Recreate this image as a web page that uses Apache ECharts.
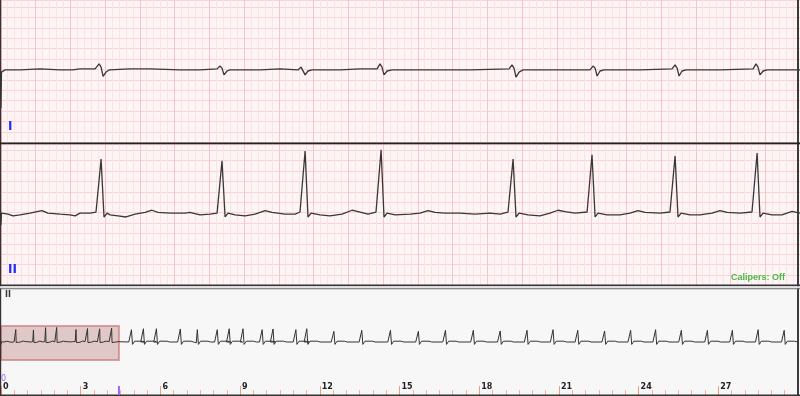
<!DOCTYPE html>
<html>
<head>
<meta charset="utf-8">
<script src="https://cdn.jsdelivr.net/npm/echarts@6.0.0/dist/echarts.min.js"></script>
<style>
html,body{margin:0;padding:0;background:#fff;}
#chart{width:800px;height:396px;}
</style>
</head>
<body>
<div id="chart"></div>
<script>
// ---- Data (time in s, amplitude in mV) ----
const leadI = [[0.005,-1.04],[0.008,-0.03],[0.028,0.03],[0.11,0.03],[0.22,0.06],[0.33,0.03],[0.40,0.03],[0.44,0.06],[0.523,0.06],[0.545,0.20],[0.556,0.11],[0.567,-0.15],[0.583,-0.03],[0.60,0.03],[0.715,0.06],[0.825,0.06],[0.99,0.03],[1.10,0.03],[1.194,0.06],[1.21,0.14],[1.221,0.08],[1.232,-0.11],[1.249,0],[1.265,0.03],[1.43,0.03],[1.54,0.06],[1.639,0.03],[1.656,0.11],[1.667,0.06],[1.678,-0.11],[1.694,0],[1.716,0.03],[1.87,0.03],[1.98,0.06],[2.074,0.06],[2.09,0.20],[2.101,0.11],[2.112,-0.11],[2.129,0],[2.156,0.03],[2.365,0.03],[2.585,0.03],[2.80,0.06],[2.816,0.17],[2.827,0.08],[2.838,-0.17],[2.855,-0.03],[2.877,0.03],[3.08,0.03],[3.245,0.03],[3.262,0.14],[3.273,0.08],[3.284,-0.14],[3.30,0],[3.322,0.03],[3.52,0.03],[3.696,0.06],[3.713,0.17],[3.724,0.08],[3.735,-0.14],[3.751,0],[3.773,0.03],[3.96,0.03],[4.142,0.06],[4.158,0.20],[4.169,0.11],[4.18,-0.11],[4.197,0],[4.219,0.03],[4.40,0.03]];

const leadII = [[0.005,-0.30],[0.008,0.04],[0.044,0.01],[0.072,-0.04],[0.11,-0.01],[0.165,0.04],[0.209,0.09],[0.231,0.11],[0.264,0.04],[0.33,0.01],[0.385,-0.01],[0.413,-0.04],[0.44,0.04],[0.495,0.04],[0.528,0.07],[0.556,1.56],[0.572,-0.07],[0.589,0.04],[0.605,-0.01],[0.649,-0.04],[0.693,-0.07],[0.743,0.01],[0.798,0.06],[0.836,0.12],[0.869,0.06],[0.935,0.04],[1.018,0.04],[1.045,0.06],[1.10,-0.01],[1.155,0.01],[1.194,0.04],[1.221,1.51],[1.238,-0.07],[1.254,0.04],[1.293,-0.01],[1.348,-0.04],[1.403,0.01],[1.458,0.11],[1.496,0.06],[1.568,0.01],[1.623,0.01],[1.65,0.07],[1.678,1.79],[1.694,-0.07],[1.711,0.04],[1.76,-0.01],[1.815,-0.04],[1.881,0.01],[1.936,0.12],[1.969,0.08],[2.024,0.01],[2.068,0.07],[2.096,1.82],[2.112,-0.07],[2.129,0.04],[2.173,-0.01],[2.255,0.01],[2.31,0.04],[2.354,0.11],[2.393,0.06],[2.448,0.04],[2.53,0.04],[2.613,0.01],[2.695,0.04],[2.75,0.01],[2.794,0.07],[2.822,1.56],[2.838,-0.07],[2.855,0.04],[2.904,-0.01],[2.97,-0.04],[3.025,0.04],[3.069,0.12],[3.108,0.08],[3.163,0.04],[3.229,0.07],[3.256,1.68],[3.273,-0.07],[3.289,0.04],[3.339,-0.01],[3.41,-0.01],[3.465,0.04],[3.509,0.11],[3.548,0.06],[3.63,0.04],[3.685,0.07],[3.713,1.65],[3.729,-0.07],[3.746,0.04],[3.795,-0.01],[3.85,-0.01],[3.916,0.04],[3.96,0.11],[3.999,0.06],[4.07,0.04],[4.136,0.07],[4.164,1.73],[4.18,-0.07],[4.197,0.04],[4.246,-0.01],[4.301,-0.01],[4.356,0.09],[4.40,0.04]];

// overview strip (lead II, 30 s): beats after the first displayed window
const overviewBeatTimes = [4.91,5.36,5.85,6.75,7.39,8.14,8.59,9.11,9.83,10.24,11.10,11.51,12.53,13.58,14.66,15.71,16.73,17.78,18.79,19.80,20.78,21.71,22.72,23.70,24.64,25.61,26.59,27.53,28.50,29.48];
const overviewBeatHeights = [1.54,1.66,1.66,1.63,1.54,1.54,1.66,1.66,1.54,1.63,1.54,1.66,1.33,1.46,1.46,1.33,1.46,1.46,1.38,1.46,1.54,1.46,1.38,1.46,1.54,1.46,1.46,1.46,1.54,1.46];
const qrsOffsets = [-0.10,-0.04,0,0.04,0.12,0.40,0.50];
const qrsValues  = [0,-0.10,null,-0.30,0.10,0.10,0]; // null = R peak height of the beat

const windowStart = 0, windowEnd = 4.44;      // highlighted window in the overview
const stripSeconds = 30;
const tickLabelStep = 3;

// ---- build overview series ----
const overview = leadII.slice();
overviewBeatTimes.forEach((t, i) => {
  qrsOffsets.forEach((o, k) => {
    overview.push([t + o, qrsValues[k] === null ? overviewBeatHeights[i] : qrsValues[k]]);
  });
});

const chart = echarts.init(document.getElementById('chart'), null, {renderer: 'canvas'});

const BOX = 35.9;   // px per large box
const ROW = 10.4;   // px per horizontal grid row
const bgGridColor = '#fcf4f5';

function bgX(gi) {
  return {
    gridIndex: gi, type: 'value', min: 0, max: 23, interval: 1,
    axisLine: {show: false}, axisTick: {show: false}, axisLabel: {show: false},
    splitLine: {show: true, lineStyle: {color: '#f8c4c8', width: 1}},
    minorTick: {show: false, splitNumber: 5},
    minorSplitLine: {show: true, lineStyle: {color: '#fbe3e5', width: 1}}
  };
}
function bgY(gi, max) {
  return {
    gridIndex: gi, type: 'value', min: 0, max: max, interval: 1,
    axisLine: {show: false}, axisTick: {show: false}, axisLabel: {show: false},
    splitLine: {show: true, lineStyle: {color: '#fad3d6', width: 1}}
  };
}
function hidden(gi, min, max) {
  return {
    gridIndex: gi, type: 'value', min: min, max: max, show: false,
    splitLine: {show: false}
  };
}

const lineStyleTop = {color: '#383838', width: 1.3};

const option = {
  backgroundColor: '#ffffff',
  animation: false,
  grid: [
    {left: 0.8, top: 0, width: BOX * 23, height: 142.2, show: true, backgroundColor: bgGridColor, borderWidth: 0},
    {left: 0, top: 0, width: 800, height: 142},
    {left: 0.8, top: 144, width: BOX * 23, height: 141.4, show: true, backgroundColor: bgGridColor, borderWidth: 0},
    {left: 0, top: 143.5, width: 800, height: 142},
    {left: 1, top: 326, width: 797, height: 34},
    {left: 1, top: 360, width: 797, height: 35}
  ],
  xAxis: [
    bgX(0),
    hidden(1, 0, 4.4),
    bgX(2),
    hidden(3, 0, 4.4),
    hidden(4, 0, stripSeconds),
    {
      gridIndex: 5, type: 'value', min: 0, max: stripSeconds, interval: tickLabelStep, position: 'bottom',
      axisLine: {show: false},
      axisTick: {show: true, inside: true, length: 9, lineStyle: {color: '#f29b7e', width: 1}},
      minorTick: {show: true, splitNumber: 6, length: 5, lineStyle: {color: '#f6b09c', width: 1}},
      axisLabel: {show: true, inside: true, margin: 4, fontSize: 8, fontWeight: 'bold', color: '#222',
        fontFamily: 'DejaVu Sans', align: 'left', verticalAlign: 'bottom', padding: [0, 0, 0, 2],
        showMaxLabel: false, showMinLabel: true},
      splitLine: {show: false}
    }
  ],
  yAxis: [
    bgY(0, 142.2 / ROW),
    hidden(1, -2, 2),
    bgY(2, 141.4 / ROW),
    hidden(3, -2, 2),
    hidden(4, -2.25, 2),
    hidden(5, 0, 1)
  ],
  series: [
    {name: 'I', type: 'line', xAxisIndex: 1, yAxisIndex: 1, data: leadI, showSymbol: false, symbol: 'none', lineStyle: lineStyleTop, z: 5},
    {name: 'II', type: 'line', xAxisIndex: 3, yAxisIndex: 3, data: leadII, showSymbol: false, symbol: 'none', lineStyle: lineStyleTop, z: 5},
    {name: 'II overview', type: 'line', xAxisIndex: 4, yAxisIndex: 4, data: overview, showSymbol: false, symbol: 'none',
      lineStyle: {color: '#333', width: 1}, z: 5,
      markArea: {silent: true, itemStyle: {color: 'rgba(170,80,80,0.28)', borderColor: 'rgba(205,115,115,0.65)', borderWidth: 2},
        data: [[{xAxis: windowStart}, {xAxis: windowEnd}]]}
    },
    {type: 'line', xAxisIndex: 5, yAxisIndex: 5, data: [], showSymbol: false}
  ],
  graphic: []
};

chart.setOption(option);

const markerX = chart.convertToPixel({xAxisIndex: 5}, windowEnd);

chart.setOption({
  graphic: [
    {type: 'rect', z: -10, shape: {x: 0, y: 289, width: 800, height: 107}, style: {fill: '#f7f7f7'}},
    // borders / separators
    {type: 'rect', z: 100, shape: {x: 0, y: 0, width: 1.2, height: 396}, style: {fill: '#333'}},
    {type: 'rect', z: 100, shape: {x: 797, y: 0, width: 2, height: 396}, style: {fill: '#3a3a3a'}},
    {type: 'rect', z: 100, shape: {x: 0, y: 142.4, width: 800, height: 1.8}, style: {fill: '#222'}},
    {type: 'rect', z: 100, shape: {x: 0, y: 284.6, width: 800, height: 1.6}, style: {fill: '#333'}},
    {type: 'rect', z: 100, shape: {x: 0, y: 286.2, width: 800, height: 2}, style: {fill: '#e2e2e2'}},
    {type: 'rect', z: 100, shape: {x: 0, y: 288.2, width: 800, height: 1}, style: {fill: '#666'}},
    {type: 'rect', z: 100, shape: {x: 0, y: 394.6, width: 800, height: 1.4}, style: {fill: '#333'}},
    // labels
    {type: 'text', z: 100, x: 8, y: 121, style: {text: 'I', fill: '#1f2ff5', font: 'bold 12px "DejaVu Sans"', align: 'left', verticalAlign: 'top'}},
    {type: 'text', z: 100, x: 8, y: 264, style: {text: 'II', fill: '#1f2ff5', font: 'bold 12px "DejaVu Sans"', align: 'left', verticalAlign: 'top'}},
    {type: 'text', z: 100, x: 785, y: 273.5, style: {text: 'Calipers: Off', fill: '#4cb944', font: 'bold 9px "Liberation Sans"', align: 'right', verticalAlign: 'top'}},
    {type: 'text', z: 100, x: 5, y: 291, style: {text: 'II', fill: '#333', font: 'bold 8px "DejaVu Sans"', align: 'left', verticalAlign: 'top'}},
    {type: 'text', z: 100, x: 1, y: 374.5, style: {text: '0', fill: '#9966ff', font: '8px "DejaVu Sans"', align: 'left', verticalAlign: 'top'}},
    {type: 'rect', z: 100, shape: {x: markerX - 1, y: 386, width: 2, height: 9}, style: {fill: '#9966ff'}}
  ]
});
</script>
</body>
</html>
